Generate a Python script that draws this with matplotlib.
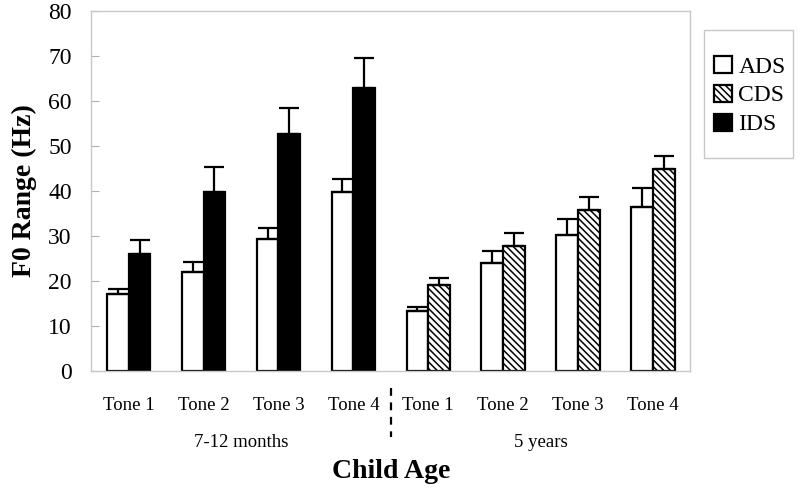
import matplotlib
matplotlib.use("Agg")
import matplotlib.pyplot as plt
import matplotlib.transforms as mtransforms
from matplotlib.patches import Rectangle
import numpy as np

# values
tones = ["Tone 1", "Tone 2", "Tone 3", "Tone 4", "Tone 1", "Tone 2", "Tone 3", "Tone 4"]
groups = ["7-12 months", "5 years"]

ads_mean = [17.0, 22.0, 29.4, 39.7, 13.3, 24.0, 30.3, 36.4]
ads_err = [1.3, 2.3, 2.3, 3.0, 1.0, 2.7, 3.4, 4.3]

# second bar: IDS for infants, CDS for 5-year-olds
ids_mean = [26.0, 39.8, 52.6, 62.9]
ids_err = [3.0, 5.6, 5.9, 6.7]
cds_mean = [19.0, 27.7, 35.7, 44.8]
cds_err = [1.7, 2.9, 3.0, 3.0]

plt.rcParams['font.family'] = ['Liberation Serif', 'DejaVu Serif']
plt.rcParams['hatch.linewidth'] = 1.1

fig = plt.figure(figsize=(8, 4.9), dpi=100)
ax = fig.add_axes([0.114, 0.243, 0.749, 0.735])

x = np.arange(len(tones))
w = 0.29
off = 0.145
ekw = dict(ecolor='black', elinewidth=1.6, capsize=7, capthick=1.6)

ax.bar(x - off, ads_mean, w, color='white', edgecolor='black', linewidth=1.6,
       label='ADS')
ax.errorbar(x - off, ads_mean, yerr=[np.zeros(len(ads_err)), ads_err], fmt='none', **ekw)

x_inf = x[:4] + off
x_old = x[4:] + off
ax.bar(x_old, cds_mean, w, color='white', edgecolor='black', linewidth=1.6,
       hatch='\\\\\\\\\\', label='CDS')
ax.errorbar(x_old, cds_mean, yerr=[np.zeros(4), cds_err], fmt='none', **ekw)
ax.bar(x_inf, ids_mean, w, color='black', edgecolor='black', linewidth=1.6,
       label='IDS')
ax.errorbar(x_inf, ids_mean, yerr=[np.zeros(4), ids_err], fmt='none', **ekw)

ax.set_xlim(-0.5, 7.5)
ax.set_ylim(0, 80)
ax.set_yticks(np.arange(0, 81, 10))
ax.set_xticks(x)
ax.set_xticklabels(tones, fontsize=13.5)
ax.tick_params(axis='x', length=0, pad=19)
ax.tick_params(axis='y', direction='in', length=6, color='#b0b0b0', labelsize=17, pad=14)
for s in ax.spines.values():
    s.set_color('#c8c8c8')
    s.set_linewidth(1.0)

ax.set_ylabel('F0 Range (Hz)', fontsize=20, fontweight='bold', labelpad=8)

# divider and group labels below the axis
trans = mtransforms.blended_transform_factory(ax.transData, ax.transAxes)
ax.plot([3.5, 3.5], [-0.047, -0.183], transform=trans, color='black', lw=1.6,
        linestyle=(0, (3.5, 3)), clip_on=False)
ax.text(1.5, -0.2, groups[0], transform=trans, ha='center', va='center', fontsize=13.5)
ax.text(5.5, -0.2, groups[1], transform=trans, ha='center', va='center', fontsize=13.5)
ax.text(3.5, -0.28, 'Child Age', transform=trans, ha='center', va='center',
        fontsize=20, fontweight='bold')

# legend box drawn separately so the padding can be taller than wide
fig.patches.append(Rectangle((0.88, 0.678), 0.111, 0.261, transform=fig.transFigure,
                             facecolor='white', edgecolor='#c8c8c8', linewidth=1.0))
handles, labels = ax.get_legend_handles_labels()
order = [labels.index(l) for l in ['ADS', 'CDS', 'IDS']]
fig.legend([handles[i] for i in order], [labels[i] for i in order],
           loc='center', bbox_to_anchor=(0.937, 0.805), fontsize=17,
           frameon=False, handlelength=0.8, handleheight=0.75, handletextpad=0.25,
           labelspacing=0.3, borderpad=0, borderaxespad=0)

fig.savefig('out.png', dpi=100)
